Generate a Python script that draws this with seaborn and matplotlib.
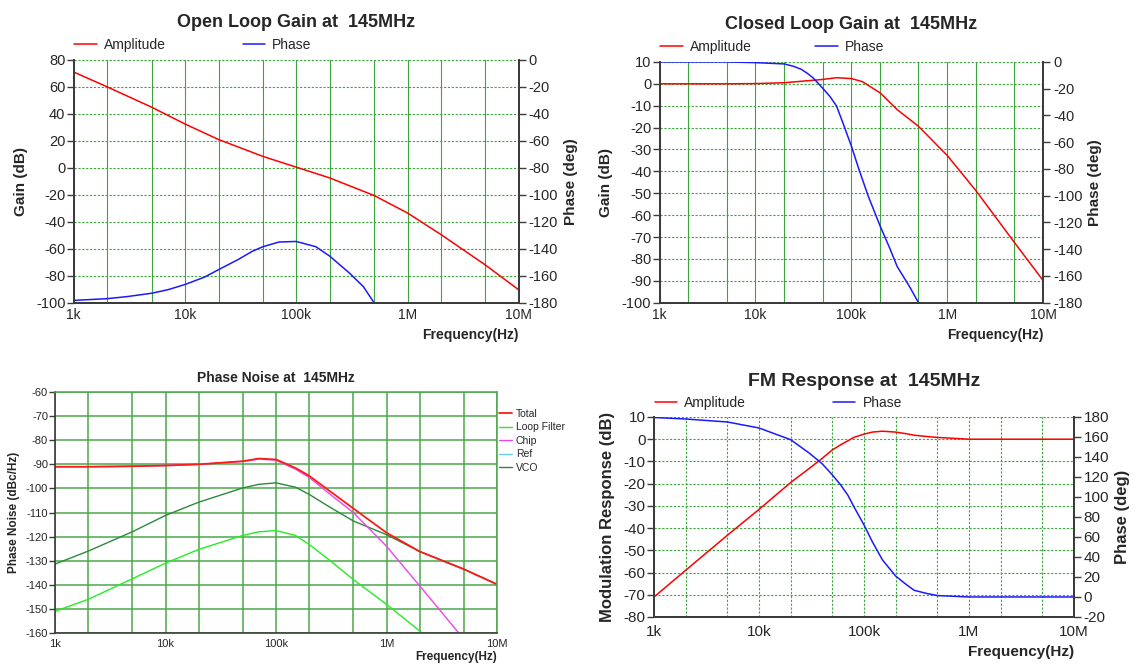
import pandas as pd
import seaborn as sns
import matplotlib.pyplot as plt
import numpy as np
from matplotlib.ticker import FixedLocator, NullFormatter, FixedFormatter

# ---- open loop gain ----
ol_freq = [1e3, 2e3, 5e3, 1e4, 2e4, 5e4, 1e5, 2e5, 5e5, 1e6, 2e6, 5e6, 1e7]
ol_amp = [71, 60, 45, 32.5, 21, 8.5, 0.5, -7.5, -20.5, -33.5, -49.5, -72, -90.5]
ol_ph_freq = [1e3, 2e3, 3e3, 5e3, 7e3, 1e4, 1.5e4, 2e4, 3e4, 4e4, 5e4, 7e4, 1e5, 1.5e5, 2e5, 3e5, 4e5, 5e5]
ol_phase = [-178.3, -177, -175.5, -173, -170.4, -166.5, -161, -155.5, -148, -142, -138.5, -135, -134.6,
            -138.5, -145.5, -158, -168, -180]

# ---- closed loop gain ----
cl_freq = [1e3, 5e3, 1e4, 2e4, 5e4, 7e4, 1e5, 1.3e5, 2e5, 3e5, 5e5, 1e6, 2e6, 5e6, 1e7]
cl_amp = [0, 0, 0.1, 0.5, 2, 2.8, 2.4, 1, -4.2, -11.8, -19.4, -32.8, -49, -72.5, -90]
cl_ph_freq = [1e3, 5e3, 1e4, 2e4, 2.5e4, 3e4, 3.5e4, 4e4, 5e4, 6e4, 7e4, 8e4, 1e5, 1.2e5, 1.5e5, 2e5,
              2.5e5, 3e5, 4e5, 5e5]
cl_phase = [0, 0, -0.5, -1.5, -3.3, -5.5, -8.7, -12, -19.5, -26, -33, -44, -63, -80.5, -100.5, -123,
            -139, -153, -167.5, -180]

# ---- phase noise ----
pn_freq = [1e3, 2e3, 5e3, 1e4, 2e4, 5e4, 7e4, 1e5, 1.5e5, 2e5, 3e5, 5e5, 1e6, 2e6, 5e6, 1e7]
pn_total = [-91, -91, -90.8, -90.5, -90, -88.7, -87.6, -88, -91.5, -94.8, -100.8, -108.3, -118.4, -126.2, -133.5, -139.8]
pn_chip_freq = [1e3, 2e3, 5e3, 1e4, 2e4, 5e4, 7e4, 1e5, 1.5e5, 2e5, 3e5, 5e5, 1e6, 2e6, 3e6, 4.5e6]
pn_chip = [-91, -91, -90.8, -90.5, -90, -88.8, -87.8, -88.3, -92, -95.5, -102, -110, -124, -140.5, -150.2, -160]
pn_vco = [-131.4, -126, -118, -111.2, -105.7, -99.8, -98.3, -97.7, -99.5, -102.5, -107.5, -113.5, -119.2, -126.2, -133.5, -139.8]
pn_lf_freq = [1e3, 2e3, 5e3, 1e4, 2e4, 5e4, 7e4, 1e5, 1.5e5, 2e5, 3e5, 5e5, 1e6, 2e6, 2.2e6]
pn_lf = [-151, -146, -137.5, -131, -125.3, -119.5, -118, -117.5, -119.5, -123.3, -129.5, -137.8, -148.1, -159.2, -161]

# ---- FM response ----
fm_freq = [1e3, 2e3, 5e3, 1e4, 2e4, 3e4, 4e4, 5e4, 6e4, 7e4, 8e4, 1e5, 1.2e5, 1.5e5, 2e5, 2.5e5, 3e5,
           4e5, 5e5, 1e6, 2e6, 5e6, 1e7]
fm_amp = [-71, -59, -43.2, -31.6, -19.5, -13.2, -8.6, -4.8, -2.5, -0.75, 0.8, 2.3, 3.2, 3.6, 3.2, 2.5, 1.8,
          1.2, 0.8, 0, 0, 0, 0]
fm_phase = [179.5, 178, 175, 169, 157.3, 144, 133.2, 122, 112, 102, 90.4, 72, 55.3, 37, 21, 12.8, 6.7,
            3.4, 1.4, 0, 0, 0, 0]

dec_ticks = [1e3, 1e4, 1e5, 1e6, 1e7]
dec_labels = ['1k', '10k', '100k', '1M', '10M']
minor_ticks = [m * 10 ** e for e in range(3, 7) for m in (2, 5)]

sns.set_theme(style='white')
plt.rcParams['font.family'] = ['Liberation Sans', 'DejaVu Sans']
plt.rcParams['axes.unicode_minus'] = False

RED = '#ff0000'
BLUE = '#1a1aff'
GRID = '#3aa53a'
SPINE = '#3c3c3c'

fig = plt.figure(figsize=(11.44, 6.66), dpi=100)


def setup_x(ax, fs=10):
    ax.set_xscale('log')
    ax.set_xlim(1e3, 1e7)
    ax.xaxis.set_major_locator(FixedLocator(dec_ticks))
    ax.xaxis.set_major_formatter(FixedFormatter(dec_labels))
    ax.xaxis.set_minor_locator(FixedLocator(minor_ticks))
    ax.xaxis.set_minor_formatter(NullFormatter())
    ax.tick_params(axis='x', which='both', length=0, labelsize=fs, pad=4)


def style_spines(ax, color=SPINE):
    for s in ['left', 'bottom', 'right']:
        ax.spines[s].set_color(color)
        ax.spines[s].set_linewidth(1.4)
    ax.spines['top'].set_visible(False)


def bode_panel(rect, title, f_amp, amp, f_ph, ph, ylim, yticks, ylim2, yticks2,
               ylabel, vstyle, colsp):
    ax = fig.add_axes(rect)
    df_a = pd.DataFrame({'freq': f_amp, 'val': amp})
    df_p = pd.DataFrame({'freq': f_ph, 'val': ph})
    sns.lineplot(data=df_a, x='freq', y='val', color=RED, lw=1.1, ax=ax, label='Amplitude', legend=False)
    setup_x(ax)
    ax.set_ylim(*ylim)
    ax.set_yticks(yticks)
    ax.tick_params(axis='y', which='major', length=5, width=1, color=SPINE, labelsize=10.5, pad=1, direction='out', left=True)
    ax.grid(True, axis='x', which='both', color=GRID, lw=0.8, ls=vstyle)
    ax.grid(True, axis='y', which='major', color=GRID, lw=0.8, ls=(0, (2, 1.5)))
    ax.set_ylabel(ylabel, fontsize=11, fontweight='bold', labelpad=6)
    ax.set_xlabel('Frequency(Hz)', fontsize=10, fontweight='bold', loc='right', labelpad=4)
    style_spines(ax)

    ax2 = ax.twinx()
    sns.lineplot(data=df_p, x='freq', y='val', color=BLUE, lw=1.1, ax=ax2, label='Phase', legend=False)
    ax2.set_ylim(*ylim2)
    ax2.set_yticks(yticks2)
    ax2.tick_params(axis='y', length=5, width=1, color=SPINE, labelsize=10.5, pad=2, right=True)
    ax2.set_ylabel('Phase (deg)', fontsize=11, fontweight='bold', labelpad=4)
    ax2.grid(False)
    style_spines(ax2)
    setup_x(ax2)
    ax2.set_xlabel('')

    h1, l1 = ax.get_legend_handles_labels()
    h2, l2 = ax2.get_legend_handles_labels()
    ax.legend(h1 + h2, l1 + l2, loc='lower left', bbox_to_anchor=(-0.005, 1.02), ncol=2,
              frameon=False, fontsize=10, handlelength=1.6, handletextpad=0.5,
              columnspacing=colsp, borderaxespad=0.1, borderpad=0.1)
    ax.set_title(title, fontsize=13, fontweight='bold', pad=24)
    return ax, ax2


# open loop
bode_panel([0.0645, 0.5455, 0.389, 0.3645], 'Open Loop Gain at  145MHz',
           ol_freq, ol_amp, ol_ph_freq, ol_phase,
           (-100, 80), np.arange(-100, 81, 20), (-180, 0), np.arange(-180, 1, 20),
           'Gain (dB)', '-', 5.6)

# closed loop
bode_panel([0.5765, 0.5455, 0.3355, 0.3615], 'Closed Loop Gain at  145MHz',
           cl_freq, cl_amp, cl_ph_freq, cl_phase,
           (-100, 10), np.arange(-100, 11, 10), (-180, 0), np.arange(-180, 1, 20),
           'Gain (dB)', '-', 4.6)

# FM response
axf, axf2 = bode_panel([0.5717, 0.0736, 0.3671, 0.3003], 'FM Response at  145MHz',
                       fm_freq, fm_amp, fm_freq, fm_phase,
                       (-80, 10), np.arange(-80, 11, 10), (-20, 180), np.arange(-20, 181, 20),
                       'Modulation Response (dB)', (0, (2, 1.5)), 6.3)
axf.set_title('FM Response at  145MHz', fontsize=14, fontweight='bold', pad=22)
axf.xaxis.label.set_fontsize(11)
axf.tick_params(axis='both', labelsize=11)
axf.tick_params(axis='x', pad=6)
axf2.tick_params(axis='y', labelsize=11)
axf.yaxis.label.set_fontsize(12)
axf2.yaxis.label.set_fontsize(12)

# phase noise
axn = fig.add_axes([0.0481, 0.0495, 0.3864, 0.3619])
pn_sets = [
    ('VCO', pn_freq, pn_vco, '#2b8a3a', 1.0),
    ('Loop Filter', pn_lf_freq, pn_lf, '#22ee22', 1.0),
    ('Chip', pn_chip_freq, pn_chip, '#ee44ee', 1.0),
    ('Total', pn_freq, pn_total, '#ff1a1a', 1.3),
]
for name, fr, vals, col, lw in pn_sets:
    df_n = pd.DataFrame({'freq': fr, 'val': vals})
    sns.lineplot(data=df_n, x='freq', y='val', color=col, lw=lw, ax=axn, label=name, legend=False)
axn.plot([], [], color='#66ccee', lw=1.0, label='Ref')
setup_x(axn, fs=8)
axn.set_ylim(-160, -60)
axn.set_yticks(np.arange(-160, -59, 10))
axn.tick_params(axis='y', length=4, width=1, color=SPINE, labelsize=8, pad=1, left=True)
axn.grid(True, axis='x', which='both', color='#4aa84a', lw=1.1)
axn.grid(True, axis='y', which='major', color='#4aa84a', lw=1.1)
axn.set_ylabel('Phase Noise (dBc/Hz)', fontsize=8.5, fontweight='bold', labelpad=4)
axn.set_xlabel('Frequency(Hz)', fontsize=8.5, fontweight='bold', loc='right', labelpad=2)
axn.set_title('Phase Noise at  145MHz', fontsize=10, fontweight='bold', pad=7)
for s in ['left', 'bottom']:
    axn.spines[s].set_color(SPINE)
    axn.spines[s].set_linewidth(1.2)
for s in ['top', 'right']:
    axn.spines[s].set_color('#4aa84a')
    axn.spines[s].set_linewidth(1.1)
h, l = axn.get_legend_handles_labels()
order = [l.index(n) for n in ['Total', 'Loop Filter', 'Chip', 'Ref', 'VCO']]
axn.legend([h[i] for i in order], [l[i] for i in order], loc='upper left',
           bbox_to_anchor=(1.0, 0.94), frameon=False, fontsize=7.5, handlelength=1.2,
           handletextpad=0.4, labelspacing=0.35, borderaxespad=0.1, borderpad=0.1)

plt.savefig('out.png', dpi=100)
plt.close()
